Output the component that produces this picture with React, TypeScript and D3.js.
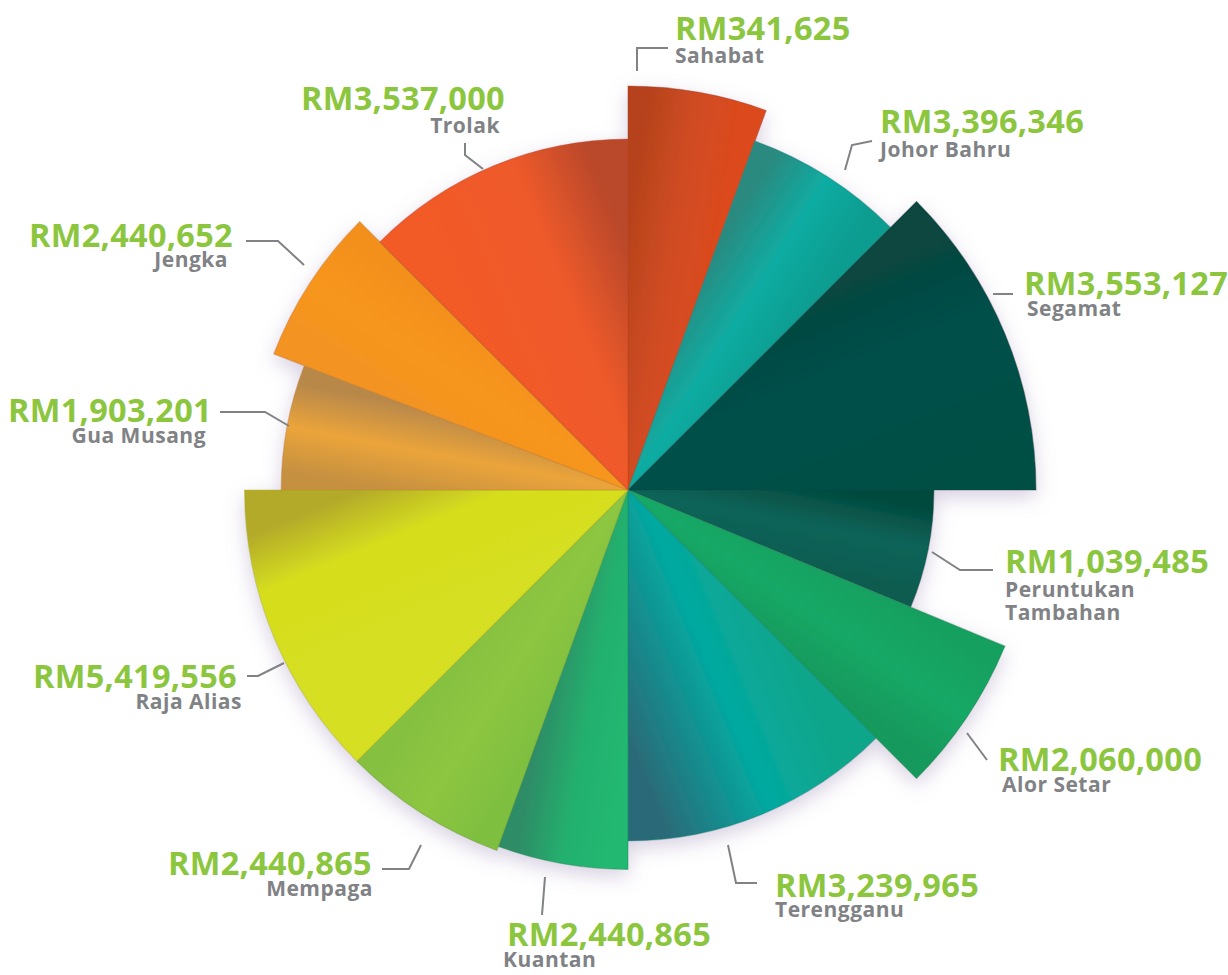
import React from "react";
import * as d3 from "d3";

// ---- data ----
const regions = [
  "Sahabat", "Johor Bahru", "Segamat", "Peruntukan Tambahan", "Alor Setar", "Terengganu",
  "Kuantan", "Mempaga", "Raja Alias", "Gua Musang", "Jengka", "Trolak",
];
const amounts = [
  "RM341,625", "RM3,396,346", "RM3,553,127", "RM1,039,485", "RM2,060,000", "RM3,239,965",
  "RM2,440,865", "RM2,440,865", "RM5,419,556", "RM1,903,201", "RM2,440,652", "RM3,537,000",
];
// angular sweep of each petal (degrees) and its reach (% of the longest petal)
const sweep = [20, 25, 45, 22.5, 22.5, 45, 20, 25, 45, 21, 24, 45];
const reach = [99, 91, 100, 75, 100, 86, 93, 94, 94, 85, 93, 86];

// ---- styles ----
const palette = [
  ["#b5421d", "#d04c22", "#dc4a1e"],
  ["#2a8a80", "#10aca2", "#0c9c90"],
  ["#07463f", "#03504a", "#034f45"],
  ["#03493e", "#0d6459", "#0a5c50"],
  ["#12a060", "#17a866", "#12995c"],
  ["#10a68a", "#03a9a0", "#2b6b78"],
  ["#20b872", "#24b06e", "#2e8d66"],
  ["#7fbf3f", "#8dc63f", "#86c040"],
  ["#d6df22", "#d6de1e", "#b3aa2a"],
  ["#c59040", "#eba43a", "#b8884a"],
  ["#f29322", "#f7961c", "#f3901e"],
  ["#f25a27", "#ef5a2a", "#b9482a"],
];
const midStop = [0.5, 0.5, 0.4, 0.5, 0.5, 0.45, 0.5, 0.5, 0.72, 0.5, 0.5, 0.6];
const GREEN = "#8cc63f";
const GREY = "#808285";

// ---- label layout (page pixels) ----
type Lbl = { x: number; vy: number; nx?: number; ny: number[]; anchor: "start" | "end"; leader: [number, number][] };
const labelLayout: Lbl[] = [
  { x: 675, vy: 40, ny: [63], anchor: "start", leader: [[637, 71], [637, 48], [668, 48]] },
  { x: 880, vy: 133, ny: [157], anchor: "start", leader: [[845, 170], [852, 145], [872, 141]] },
  { x: 1024, vy: 295, nx: 1027, ny: [316], anchor: "start", leader: [[993, 294], [1013, 294]] },
  { x: 1005, vy: 573, ny: [597, 620], anchor: "start", leader: [[932, 552], [960, 570], [993, 570]] },
  { x: 998, vy: 771, nx: 1002, ny: [792], anchor: "start", leader: [[967, 733], [987, 760]] },
  { x: 775, vy: 897, ny: [917], anchor: "start", leader: [[728, 845], [736, 883], [757, 883]] },
  { x: 507, vy: 946, nx: 503, ny: [967], anchor: "start", leader: [[545, 877], [542, 915]] },
  { x: 372, vy: 875, nx: 373, ny: [896], anchor: "end", leader: [[421, 845], [409, 869], [382, 869]] },
  { x: 237, vy: 688, nx: 242, ny: [709], anchor: "end", leader: [[284, 663], [258, 676], [247, 676]] },
  { x: 212, vy: 422, nx: 206, ny: [443], anchor: "end", leader: [[289, 426], [265, 412], [220, 412]] },
  { x: 233, vy: 247, nx: 228, ny: [267], anchor: "end", leader: [[304, 265], [278, 241], [246, 241]] },
  { x: 505, vy: 110, nx: 500, ny: [133], anchor: "end", leader: [[483, 169], [465, 155], [465, 143]] },
];
const nameLines = [
  ["Sahabat"], ["Johor Bahru"], ["Segamat"], ["Peruntukan", "Tambahan"], ["Alor Setar"], ["Terengganu"],
  ["Kuantan"], ["Mempaga"], ["Raja Alias"], ["Gua Musang"], ["Jengka"], ["Trolak"],
];

const W = 1228;
const H = 975;
const CX = 628;
const CY = 490;
const RMAX = 408;

export default function App() {
  const pie = d3
    .pie<number>()
    .sort(null)
    .value((d) => d)
    .startAngle(0)
    .endAngle(2 * Math.PI);
  const arcsData = pie(sweep);
  const rScale = d3.scaleLinear().domain([0, 100]).range([0, RMAX]);
  const arcGen = d3.arc<any>().innerRadius(0);
  const pt = (a: number, r: number): [number, number] => [Math.sin(a) * r, -Math.cos(a) * r];
  const font = "'Open Sans', 'DejaVu Sans', sans-serif";

  return (
    <svg
      width={W}
      height={H}
      style={{ position: "absolute", left: 0, top: 0, background: "#fff" }}
      xmlns="http://www.w3.org/2000/svg"
    >
      <defs>
        <filter id="shadow" x="-20%" y="-20%" width="140%" height="140%">
          <feGaussianBlur in="SourceAlpha" stdDeviation="10" />
          <feOffset dx="0" dy="7" result="blur" />
          <feFlood floodColor="#a08fb8" floodOpacity="0.42" />
          <feComposite in2="blur" operator="in" result="sh" />
          <feMerge>
            <feMergeNode in="sh" />
            <feMergeNode in="SourceGraphic" />
          </feMerge>
        </filter>
        {arcsData.map((d, i) => {
          const r = rScale(reach[i]) * 0.7;
          const [x1, y1] = pt(d.startAngle, r);
          const [x2, y2] = pt(d.endAngle, r);
          return (
            <linearGradient
              key={i}
              id={`g${i}`}
              gradientUnits="userSpaceOnUse"
              x1={x1}
              y1={y1}
              x2={x2}
              y2={y2}
            >
              <stop offset="0" stopColor={palette[i][0]} />
              <stop offset={midStop[i]} stopColor={palette[i][1]} />
              <stop offset="1" stopColor={palette[i][2]} />
            </linearGradient>
          );
        })}
      </defs>
      <g transform={`translate(${CX},${CY})`} filter="url(#shadow)">
        {arcsData.map((d, i) => (
          <path
            key={regions[i]}
            d={arcGen({ ...d, outerRadius: rScale(reach[i]) }) as string}
            fill={`url(#g${i})`}
            stroke={d3.color(palette[i][1])!.darker(0.6).formatHex()}
            strokeOpacity={0.45}
            strokeWidth={1.2}
          />
        ))}
      </g>
      <g fontFamily={font} fontWeight={700}>
        {labelLayout.map((l, i) => (
          <g key={i}>
            <polyline
              points={l.leader.map((p) => p.join(",")).join(" ")}
              fill="none"
              stroke={GREY}
              strokeWidth={2}
            />
            <text x={l.x} y={l.vy} fill={GREEN} fontSize={32.5} letterSpacing={0.3} textAnchor={l.anchor}>
              {amounts[i]}
            </text>
            {nameLines[i].map((t, j) => (
              <text
                key={j}
                x={l.nx ?? l.x}
                y={l.ny[j]}
                fill={GREY}
                fontSize={21}
                letterSpacing={0.5}
                textAnchor={l.anchor}
              >
                {t}
              </text>
            ))}
          </g>
        ))}
      </g>
    </svg>
  );
}
